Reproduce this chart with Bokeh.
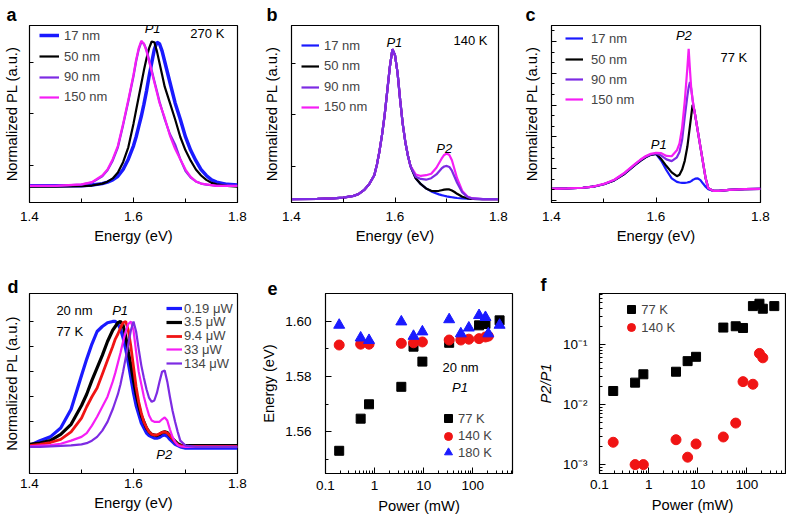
from bokeh.plotting import figure
from bokeh.models import Range1d, FixedTicker, Legend, LegendItem, Label, CustomJSTickFormatter
from bokeh.layouts import row, column
from bokeh.embed import file_html
from bokeh.resources import INLINE

FONT = "Liberation Sans"
BLUE = "#1a1aff"
BLACK = "#000000"
PURPLE = "#7d2be3"
MAGENTA = "#f51ef5"
RED = "#f01414"

# ---------------- panel a (270 K) ----------------
energy_a = [1.40, 1.45, 1.50, 1.52, 1.54, 1.55, 1.56, 1.57, 1.58, 1.59, 1.60, 1.605, 1.61, 1.615, 1.62,
            1.625, 1.63, 1.635, 1.64, 1.645, 1.65, 1.655, 1.66, 1.67, 1.68, 1.69, 1.70, 1.71, 1.72, 1.73,
            1.74, 1.75, 1.76, 1.78, 1.80]
pl_a_17nm = [.02, .02, .02, .025, .035, .045, .06, .085, .13, .20, .29, .35, .42, .49, .57, .66, .76, .85, .94, .99,
             .98, .93, .86, .72, .58, .47, .35, .26, .19, .13, .09, .06, .045, .03, .025]
pl_a_50nm = [.015, .015, .018, .022, .035, .048, .07, .11, .18, .28, .44, .53, .62, .71, .80, .88, .95, .995, .99, .93,
             .85, .77, .69, .58, .47, .35, .26, .19, .13, .09, .06, .04, .03, .02, .015]
pl_a_90nm = [.02, .02, .028, .042, .085, .125, .19, .28, .43, .59, .76, .86, .94, .99, .98, .94, .87, .80, .73, .66,
             .59, .53, .47, .37, .30, .20, .12, .075, .05, .035, .028, .024, .02, .02, .02]
pl_a_150nm = [.02, .02, .03, .045, .09, .13, .20, .29, .44, .60, .77, .87, .95, 1.0, .98, .93, .86, .79, .72, .65,
              .58, .53, .48, .36, .27, .20, .13, .08, .05, .035, .03, .025, .02, .02, .02]

# ---------------- panel b (140 K) ----------------
energy_b = [1.40, 1.45, 1.48, 1.50, 1.52, 1.53, 1.54, 1.55, 1.56, 1.565, 1.57, 1.575, 1.58, 1.585, 1.59,
            1.595, 1.60, 1.605, 1.61, 1.615, 1.62, 1.625, 1.63, 1.64, 1.65, 1.66, 1.67, 1.68, 1.685, 1.69,
            1.695, 1.70, 1.705, 1.71, 1.715, 1.72, 1.73, 1.74, 1.75, 1.77, 1.80]
pl_b_17nm = [0, .002, .005, .01, .022, .035, .06, .10, .16, .23, .32, .43, .56, .72, .88, 1.0, .96, .84, .66, .50,
             .38, .29, .22, .14, .10, .072, .052, .038, .032, .027, .023, .019, .016, .013, .010, .008, .005, .003,
             .002, 0, 0]
pl_b_50nm = [0, .002, .005, .01, .022, .035, .06, .10, .16, .23, .32, .43, .56, .72, .88, 1.0, .96, .84, .66, .50,
             .38, .29, .22, .14, .10, .072, .056, .054, .056, .06, .064, .066, .065, .058, .048, .036, .016, .006,
             .002, 0, 0]
pl_b_90nm = [0, .002, .005, .01, .022, .035, .06, .10, .16, .23, .32, .43, .56, .72, .88, 1.0, .96, .84, .66, .50,
             .38, .29, .22, .15, .135, .13, .14, .165, .185, .205, .218, .222, .215, .19, .15, .11, .045, .015,
             .005, 0, 0]
pl_b_150nm = [0, .002, .005, .01, .022, .035, .06, .10, .16, .23, .32, .43, .56, .72, .88, 1.0, .96, .84, .66, .50,
              .38, .29, .22, .165, .155, .16, .17, .21, .24, .27, .295, .305, .295, .26, .20, .14, .055, .018,
              .005, 0, 0]

# ---------------- panel c (77 K) ----------------
energy_c = [1.40, 1.43, 1.46, 1.48, 1.50, 1.52, 1.54, 1.56, 1.57, 1.58, 1.59, 1.60, 1.61, 1.62, 1.63,
            1.64, 1.645, 1.65, 1.655, 1.66, 1.6625, 1.665, 1.6675, 1.67, 1.6725, 1.675, 1.68, 1.685, 1.69, 1.695,
            1.70, 1.71, 1.72, 1.74, 1.77, 1.80]
pl_c_17nm = [0, .01, .03, .06, .13, .24, .43, .68, .80, .90, .97, 1.0, .80, .53, .30,
             .20, .18, .17, .17, .18, .19, .20, .22, .25, .27, .29, .30, .25, .15, .06,
             -.01, -.06, -.06, -.03, -.01, 0]
pl_c_50nm = [0, .01, .03, .06, .13, .24, .43, .68, .80, .90, .97, 1.0, .85, .65, .47,
             .36, .40, .55, .80, 1.2, 1.5, 1.8, 2.1, 2.4, 2.3, 2.1, 1.65, 1.2, .75, .3,
             .02, -.06, -.06, -.03, -.01, 0]
pl_c_90nm = [0, .01, .03, .06, .13, .25, .45, .70, .82, .92, .98, 1.01, .95, .84, .79,
             .90, 1.05, 1.4, 2.05, 2.65, 2.9, 3.05, 2.85, 2.55, 2.3, 2.1, 1.65, 1.2, .75, .3,
             .02, -.06, -.06, -.03, -.01, 0]
pl_c_150nm = [0, .01, .03, .065, .14, .26, .46, .71, .83, .93, 1.0, 1.03, 1.02, .94, .93,
              1.1, 1.3, 1.75, 2.5, 3.45, 4.0, 3.4, 2.85, 2.55, 2.3, 2.1, 1.65, 1.2, .75, .3,
              .02, -.06, -.06, -.03, -.01, 0]

# ---------------- panel d (20 nm, 77 K, power series) ----------------
energy_d = [1.40, 1.42, 1.44, 1.46, 1.48, 1.50, 1.51, 1.52, 1.53, 1.54, 1.55, 1.56, 1.565, 1.57, 1.575,
            1.58, 1.585, 1.59, 1.595, 1.60, 1.605, 1.61, 1.615, 1.62, 1.625, 1.63, 1.635, 1.64, 1.645, 1.65,
            1.655, 1.66, 1.665, 1.67, 1.675, 1.68, 1.685, 1.69, 1.70, 1.72, 1.75, 1.80]
pl_d_0_19uW = [.01, .05, .08, .15, .30, .57, .70, .82, .92, .96, .99, 1.0, 1.0, .98, .94, .87, .78, .67, .55, .43,
               .33, .26, .19, .15, .11, .09, .08, .07, .07, .075, .09, .095, .085, .06, .04, .02, .01, 0, -.01,
               -.01, -.01, -.01]
pl_d_3_5uW = [.02, .03, .05, .10, .18, .33, .42, .53, .63, .73, .84, .93, .96, .99, 1.0, .97, .88, .76, .65, .53,
              .42, .33, .25, .20, .15, .12, .10, .095, .09, .10, .115, .12, .115, .09, .065, .045, .025, .015, .01,
              .01, .01, .01]
pl_d_9_4uW = [.01, .02, .035, .06, .12, .23, .32, .40, .47, .58, .69, .80, .86, .90, .95, .99, 1.0, .93, .80, .64,
              .48, .36, .27, .20, .155, .12, .10, .095, .095, .105, .115, .12, .11, .09, .065, .04, .02, .01, .005,
              .005, .005, .005]
pl_d_33uW = [.005, .01, .015, .025, .05, .08, .11, .17, .24, .32, .40, .52, .59, .67, .75, .84, .92, .98, 1.0, .93,
             .76, .60, .50, .40, .32, .25, .21, .20, .20, .20, .22, .235, .21, .14, .08, .04, .015, .005, 0,
             0, 0, 0]
pl_d_134uW = [0, 0, .005, .008, .012, .02, .03, .05, .08, .13, .20, .30, .36, .42, .50, .60, .71, .82, .93, 1.0,
              .92, .78, .65, .55, .46, .39, .36, .37, .43, .52, .60, .61, .52, .40, .29, .20, .12, .05, .01,
              0, 0, 0]

# ---------------- panel e (P1 energy vs power) ----------------
power_e_77K = [0.19, 0.52, 0.77, 3.5, 6.2, 9.4, 33, 134, 181, 351]
energy_e_77K = [1.5532, 1.5648, 1.5700, 1.5763, 1.5908, 1.5854, 1.5922, 1.5985, 1.5990, 1.6003]
power_e_140K = [0.19, 0.52, 0.77, 3.5, 6.2, 9.4, 33, 57, 83, 134, 181, 207]
energy_e_140K = [1.5914, 1.5917, 1.5917, 1.5920, 1.5922, 1.5925, 1.5932, 1.5932, 1.5935, 1.5937, 1.5943, 1.5946]
power_e_180K = [0.19, 0.52, 0.77, 3.5, 6.2, 9.4, 33, 57, 83, 134, 181, 207, 351]
energy_e_180K = [1.5986, 1.5940, 1.5931, 1.5998, 1.5946, 1.5962, 1.6006, 1.5955, 1.5976, 1.6021, 1.6014,
                 1.5955, 1.5986]

# ---------------- panel f (P2/P1 vs power) ----------------
power_f_77K = [0.19, 0.53, 0.78, 3.6, 6.2, 9.2, 33, 59, 83, 132, 179, 210, 359]
ratio_f_77K = [0.0169, 0.0233, 0.0321, 0.0354, 0.0532, 0.0628, 0.193, 0.203, 0.190, 0.44, 0.482, 0.398, 0.44]
power_f_140K = [0.19, 0.53, 0.78, 3.6, 6.2, 9.2, 33, 59, 83, 132, 179, 210]
ratio_f_140K = [0.00236, 0.0010, 0.0010, 0.0026, 0.00133, 0.00221, 0.00289, 0.00493, 0.0242, 0.0219, 0.0715,
                0.0604]


def make_fig(width, height, bl, br, bt, bb, xr, yr, xtype="linear", ytype="linear"):
    p = figure(width=width, height=height, x_range=xr, y_range=yr, x_axis_type=xtype, y_axis_type=ytype,
               output_backend="svg", toolbar_location=None)
    p.min_border_left = bl
    p.min_border_right = br
    p.min_border_top = bt
    p.min_border_bottom = bb
    p.xgrid.visible = False
    p.ygrid.visible = False
    p.outline_line_color = "black"
    p.outline_line_width = 1.2
    p.outline_line_alpha = 1.0
    p.background_fill_color = "white"
    p.border_fill_color = "white"
    for ax in (p.xaxis[0], p.yaxis[0]):
        ax.axis_line_color = "black"
        ax.major_tick_line_color = "black"
        ax.minor_tick_line_color = "black"
        ax.major_tick_out = 0
        ax.minor_tick_out = 0
        ax.major_tick_in = 5
        ax.minor_tick_in = 3
        ax.major_label_text_font = FONT
        ax.major_label_text_font_size = "13.5px"
        ax.major_label_text_color = "black"
        ax.axis_label_text_font = FONT
        ax.axis_label_text_font_size = "14.7px"
        ax.axis_label_text_font_style = "normal"
        ax.axis_label_text_color = "black"
    return p


def add_text(p, x, y, text, size="13px", style="normal", align="center", baseline="middle"):
    p.add_layout(Label(x=x, y=y, text=text, text_font=FONT, text_font_size=size, text_font_style=style,
                       text_align=align, text_baseline=baseline, text_color="black"))


def letter(p, t, offset, standoff):
    p.title.text = t
    p.title.align = "left"
    p.title.vertical_align = "bottom"
    p.title.offset = offset
    p.title.standoff = standoff
    p.title.text_font = FONT
    p.title.text_font_size = "18px"
    p.title.text_font_style = "bold"
    p.title.text_color = "black"


def legend(p, items, loc, gw, gh, standoff, size="13px"):
    p.add_layout(Legend(items=[LegendItem(label=l, renderers=[r]) for l, r in items], location=loc,
                        padding=0, margin=0, spacing=0, glyph_width=gw, glyph_height=gh, label_height=gh,
                        label_standoff=standoff, label_text_font=FONT, label_text_font_size=size,
                        border_line_color=None, background_fill_alpha=0))


def stacked_legend(p, items, bottoms, x, gw, gh, standoff):
    for (lab, r), b in zip(items, bottoms):
        legend(p, [(lab, r)], (x, b), gw, gh, standoff)


no_labels = CustomJSTickFormatter(code="return '';")
one_dec = CustomJSTickFormatter(code="return tick.toFixed(1);")
two_dec = CustomJSTickFormatter(code="return tick.toFixed(2);")
pow_fmt = CustomJSTickFormatter(code="return tick >= 1 ? tick.toFixed(0) : tick.toString();")
sup_fmt = CustomJSTickFormatter(code="const m = {'-1': '10\u207b\u00b9', '-2': '10\u207b\u00b2', '-3': '10\u207b\u00b3'};"
                                     " return m[String(Math.round(Math.log10(tick)))] || '';")


def spectra_axes(p, yticks, yminor, ylab_standoff, xl_standoff, xlab_standoff):
    p.xaxis[0].ticker = FixedTicker(ticks=[1.4, 1.6, 1.8], minor_ticks=[1.5, 1.7])
    p.xaxis[0].formatter = one_dec
    p.xaxis[0].minor_tick_in = 4
    p.xaxis[0].major_label_standoff = xl_standoff
    p.xaxis[0].axis_label_standoff = xlab_standoff
    p.yaxis[0].ticker = FixedTicker(ticks=yticks, minor_ticks=yminor)
    p.yaxis[0].formatter = no_labels
    p.yaxis[0].major_tick_in = 4
    p.yaxis[0].major_label_standoff = 0
    p.yaxis[0].axis_label_standoff = ylab_standoff
    p.xaxis[0].axis_label = "Energy (eV)"
    p.yaxis[0].axis_label = "Normalized PL (a.u.)"


# ---------- a ----------
pa = make_fig(260, 256, 28, 23, 25, 54, Range1d(1.4, 1.8), Range1d(-0.0926, 1.103))
spectra_axes(pa, [0.155, 0.507, 0.851], [], 10, 9, 4)
ra1 = pa.line(energy_a, pl_a_17nm, line_color=BLUE, line_width=3.5)
ra2 = pa.line(energy_a, pl_a_50nm, line_color=BLACK, line_width=2.2)
ra3 = pa.line(energy_a, pl_a_90nm, line_color=PURPLE, line_width=2.2)
ra4 = pa.line(energy_a, pl_a_150nm, line_color=MAGENTA, line_width=2.2)
stacked_legend(pa, [("17 nm", ra1), ("50 nm", ra2), ("90 nm", ra3), ("150 nm", ra4)],
               [157, 136, 115.3, 95.3], 10, 20, 20, 5)
add_text(pa, 1.6367, 1.081, "P1", style="italic")
add_text(pa, 1.742, 1.047, "270 K")
letter(pa, "a", -23, 1)

# ---------- b ----------
pb = make_fig(258, 256, 30, 20, 25, 54, Range1d(1.4, 1.8), Range1d(-0.022, 1.158))
spectra_axes(pb, [0.22, 0.565, 0.907], [], 12, 9, 4)
rb1 = pb.line(energy_b, pl_b_17nm, line_color=BLUE, line_width=2.2)
rb2 = pb.line(energy_b, pl_b_50nm, line_color=BLACK, line_width=2.2)
rb4 = pb.line(energy_b, pl_b_150nm, line_color=MAGENTA, line_width=2.2)
rb3 = pb.line(energy_b, pl_b_90nm, line_color=PURPLE, line_width=2.2)
stacked_legend(pb, [("17 nm", rb1), ("50 nm", rb2), ("90 nm", rb3), ("150 nm", rb4)],
               [147, 126.3, 105.3, 85.3], 10, 18, 20, 5)
add_text(pb, 1.5987, 1.047, "P1", style="italic")
add_text(pb, 1.746, 1.058, "140 K")
add_text(pb, 1.695, 0.336, "P2", style="italic")
letter(pb, "b", -25, 1)

# ---------- c ----------
pc = make_fig(268, 256, 33, 26, 25, 54, Range1d(1.4, 1.8), Range1d(-0.391, 4.666))
c_all = [-0.334 + 0.303 * k for k in range(17)]
spectra_axes(pc, [t for k, t in enumerate(c_all) if k % 3 == 0], [t for k, t in enumerate(c_all) if k % 3 != 0],
             12, 9, 4)
pc.yaxis[0].major_tick_in = 5
pc.yaxis[0].minor_tick_in = 3
rc1 = pc.line(energy_c, pl_c_17nm, line_color=BLUE, line_width=2.2)
rc2 = pc.line(energy_c, pl_c_50nm, line_color=BLACK, line_width=2.2)
rc3 = pc.line(energy_c, pl_c_90nm, line_color=PURPLE, line_width=2.2)
rc4 = pc.line(energy_c, pl_c_150nm, line_color=MAGENTA, line_width=2.2)
stacked_legend(pc, [("17 nm", rc1), ("50 nm", rc2), ("90 nm", rc3), ("150 nm", rc4)],
               [153.7, 132.7, 112.7, 92.7], 14, 18, 20, 8)
add_text(pc, 1.6533, 4.38, "P2", style="italic")
add_text(pc, 1.749, 3.76, "77 K")
add_text(pc, 1.6054, 1.266, "P1", style="italic")
letter(pc, "c", -26, 1)

# ---------- d ----------
pd_ = make_fig(258, 262, 28, 21, 32, 43, Range1d(1.4, 1.8), Range1d(-0.212, 1.223))
spectra_axes(pd_, [0.2, 0.4, 0.6, 0.8, 1.0], [], 10, 5, 4)
rd1 = pd_.line(energy_d, pl_d_0_19uW, line_color=BLUE, line_width=3.2)
rd2 = pd_.line(energy_d, pl_d_3_5uW, line_color=BLACK, line_width=3.2)
rd3 = pd_.line(energy_d, pl_d_9_4uW, line_color=RED, line_width=2.8)
rd4 = pd_.line(energy_d, pl_d_33uW, line_color=MAGENTA, line_width=2.2)
rd5 = pd_.line(energy_d, pl_d_134uW, line_color=PURPLE, line_width=2.2)
stacked_legend(pd_, [("0.19 \u03bcW", rd1), ("3.5 \u03bcW", rd2), ("9.4 \u03bcW", rd3),
                     ("33 \u03bcW", rd4), ("134 \u03bcW", rd5)],
               [157, 143.25, 129.5, 115.75, 102], 137, 16, 16, 2)
add_text(pd_, 1.4517, 1.084, "20 nm", align="left")
add_text(pd_, 1.4517, 0.922, "77 K", align="left")
add_text(pd_, 1.5742, 1.084, "P1", style="italic")
add_text(pd_, 1.659, -0.059, "P2", style="italic")
letter(pd_, "d", -22, -7)

# ---------- e ----------
pe = make_fig(276, 262, 66, 22, 36, 45, Range1d(0.1, 643), Range1d(1.545, 1.610), xtype="log")
pe.xaxis[0].ticker = FixedTicker(ticks=[0.1, 1, 10, 100],
                                 minor_ticks=[m * 10.0 ** k for k in range(-1, 3) for m in range(2, 10)])
pe.xaxis[0].formatter = pow_fmt
pe.xaxis[0].major_label_standoff = 7
pe.xaxis[0].axis_label_standoff = 5
pe.xaxis[0].axis_label = "Power (mW)"
pe.yaxis[0].ticker = FixedTicker(ticks=[1.56, 1.58, 1.60], minor_ticks=[1.55, 1.57, 1.59])
pe.yaxis[0].formatter = two_dec
pe.yaxis[0].major_label_standoff = 14
pe.yaxis[0].axis_label_standoff = 5
pe.yaxis[0].axis_label = "Energy (eV)"
for ax in (pe.xaxis[0], pe.yaxis[0]):
    ax.major_tick_in = 6
    ax.minor_tick_in = 3
re1 = pe.scatter(power_e_77K, energy_e_77K, marker="square", size=9, fill_color=BLACK, line_color=BLACK)
re2 = pe.scatter(power_e_140K, energy_e_140K, marker="circle", size=10, fill_color=RED, line_color=RED)
re3 = pe.scatter(power_e_180K, energy_e_180K, marker="triangle", size=11, fill_color=BLUE, line_color=BLUE)
stacked_legend(pe, [("77 K", re1), ("140 K", re2), ("180 K", re3)], [43.7, 26.3, 9.7], 113, 20, 22, 0)
add_text(pe, 56.5, 1.5833, "20 nm")
add_text(pe, 54.6, 1.5762, "P1", style="italic")
letter(pe, "e", -58, -3)

# ---------- f ----------
pf = make_fig(252, 262, 63, 1, 37, 44, Range1d(0.1, 607), Range1d(7.11e-4, 0.714), xtype="log", ytype="log")
pf.xaxis[0].ticker = FixedTicker(ticks=[0.1, 1, 10, 100],
                                 minor_ticks=[m * 10.0 ** k for k in range(-1, 3) for m in range(2, 10)])
pf.xaxis[0].formatter = pow_fmt
pf.xaxis[0].major_label_standoff = 6
pf.xaxis[0].axis_label_standoff = 5
pf.xaxis[0].axis_label = "Power (mW)"
pf.yaxis[0].ticker = FixedTicker(ticks=[0.001, 0.01, 0.1],
                                 minor_ticks=[m * 10.0 ** k for k in range(-4, 0) for m in range(2, 10)])
pf.yaxis[0].formatter = sup_fmt
pf.yaxis[0].major_label_standoff = 12
pf.yaxis[0].axis_label_standoff = 6
pf.yaxis[0].axis_label = "P2/P1"
pf.yaxis[0].axis_label_text_font_style = "italic"
for ax in (pf.xaxis[0], pf.yaxis[0]):
    ax.major_tick_in = 6
    ax.minor_tick_in = 3
rf1 = pf.scatter(power_f_77K, ratio_f_77K, marker="square", size=9, fill_color=BLACK, line_color=BLACK)
rf2 = pf.scatter(power_f_140K, ratio_f_140K, marker="circle", size=10, fill_color=RED, line_color=RED)
stacked_legend(pf, [("77 K", rf1), ("140 K", rf2)], [153, 134.7], 22.3, 20, 22, 0)
letter(pf, "f", -59, -2)

layout = column(row(pa, pb, pc, spacing=0), row(pd_, pe, pf, spacing=0), spacing=0)
open("out.html", "w").write(file_html(layout, INLINE))
